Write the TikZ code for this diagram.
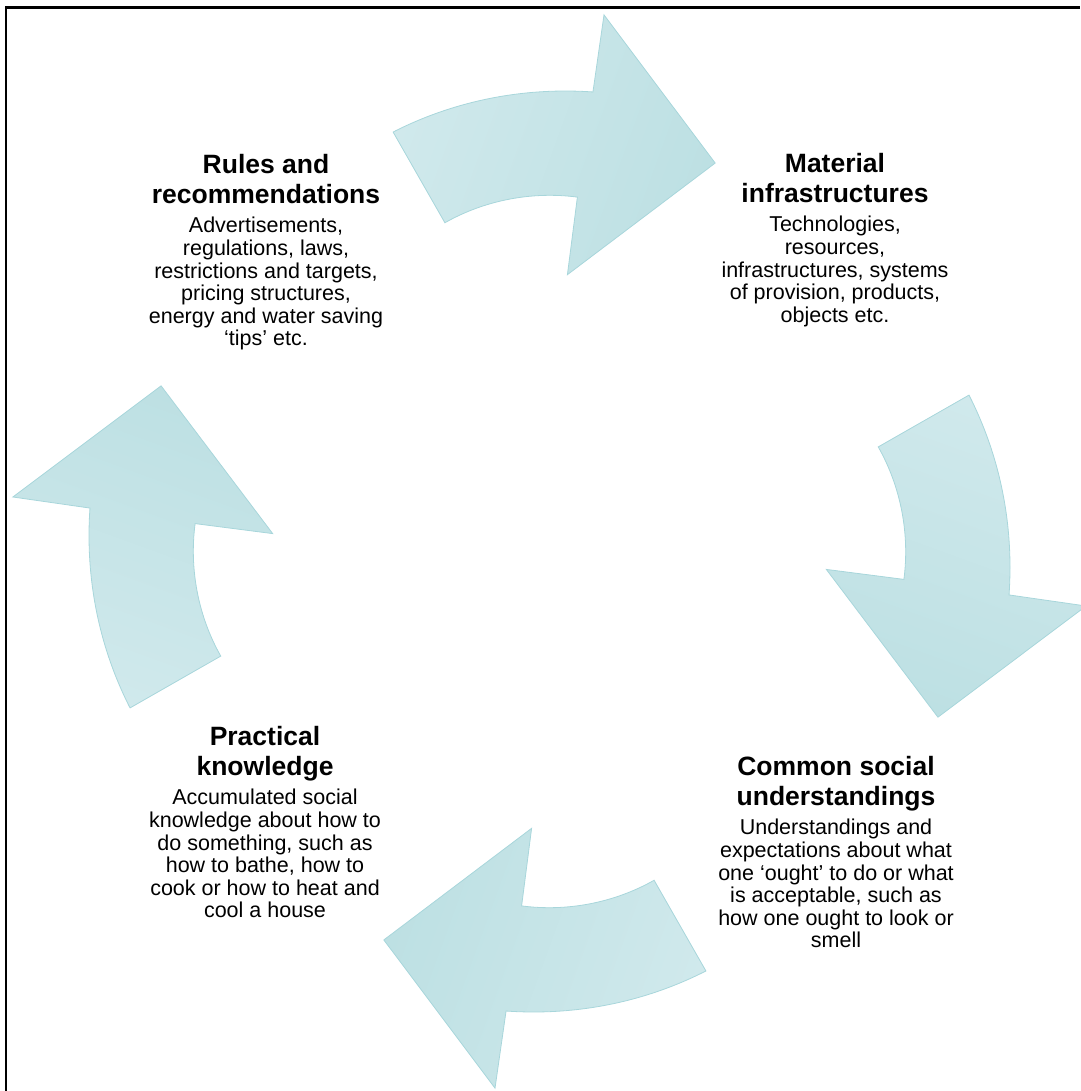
\documentclass[tikz,border=0pt]{standalone}
\usepackage{fontspec}
\setmainfont{Liberation Sans}
\definecolor{arrowlight}{RGB}{208,233,236}
\definecolor{arrowdark}{RGB}{189,224,227}
\definecolor{arrowedge}{RGB}{168,214,219}
\newcommand{\headfont}{\fontsize{26.5}{30}\selectfont\bfseries}
\newcommand{\bodyfont}{\fontsize{21.5}{22.6}\selectfont\lineskiplimit=-100pt\relax}
\begin{document}
\begin{tikzpicture}[x=1pt,y=1pt,
    cyclearrow/.style={draw=arrowedge,line width=0.8pt,left color=arrowlight,right color=arrowdark},
    blocktext/.style={align=center,inner sep=0pt,anchor=north,font=\bodyfont}]
  \useasboundingbox (0,0) rectangle (1080,-1091);
  % frame, only top and left edges show
  \draw[line width=2.4pt] (6.2,-1091) -- (6.2,-7.6) -- (1080,-7.6);
  \coordinate (c) at (549.5,-551.5);
  % the four curved arrows of the cycle
  \begin{scope}[shift={(c)}]
    \foreach \k in {0,...,3}{
      \pgfmathsetmacro\o{-90*\k}
      \pgfmathsetmacro\sa{70+\o}
      \shade[cyclearrow,shading angle=\sa]
        (\o+110.45:447.7) to[out=\o+27,in=\o+176,looseness=0.87] (\o+84.6:461.6)
        -- (\o+84.2:539.4) -- (\o+66.9:422.3) -- (\o+86.3:277.4)
        -- (\o+85.5:355.5) to[out=\o+172.5,in=\o+29.5,looseness=0.87] (\o+107.65:345)
        -- cycle;
    }
  \end{scope}
  \node[blocktext] (rules) at (266,-154)
    {{\headfont Rules and}\\[7.4pt]{\headfont recommendations}\\[6.8pt]
     Advertisements,\\regulations, laws,\\restrictions and targets,\\
     pricing structures,\\energy and water saving\\‘tips’ etc.};
  \node[blocktext] (material) at (835,-153)
    {{\headfont Material}\\[7.4pt]{\headfont infrastructures}\\[6.8pt]
     Technologies,\\resources,\\infrastructures, systems\\
     of provision, products,\\objects etc.};
  \node[blocktext] (common) at (836,-756)
    {{\headfont Common social}\\[7.4pt]{\headfont understandings}\\[6.8pt]
     Understandings and\\expectations about what\\one ‘ought’ to do or what\\
     is acceptable, such as\\how one ought to look or\\smell};
  \node[blocktext] (practical) at (265,-726)
    {{\headfont Practical}\\[7.4pt]{\headfont knowledge}\\[6.8pt]
     Accumulated social\\knowledge about how to\\do something, such as\\
     how to bathe, how to\\cook or how to heat and\\cool a house};
\end{tikzpicture}
\end{document}
